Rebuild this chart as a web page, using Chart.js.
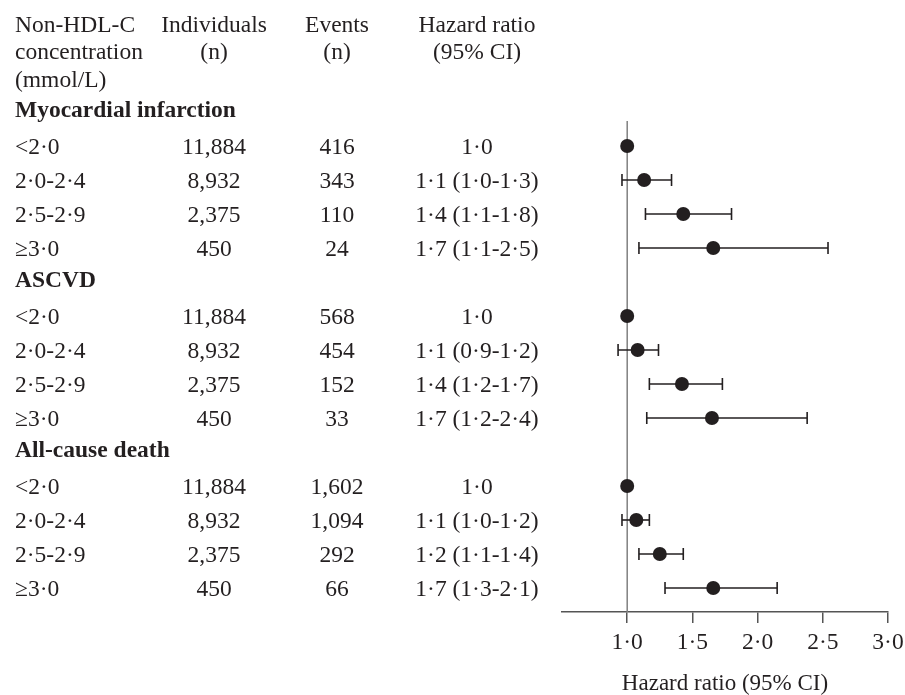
<!DOCTYPE html>
<html>
<head>
<meta charset="utf-8">
<script src="https://cdn.jsdelivr.net/npm/chart.js@4"></script>
<style>
  body { margin: 0; background: #fff; }
  #wrap { width: 905px; height: 695px; position: relative; }
</style>
</head>
<body>
<div id="wrap"><canvas id="forest"></canvas></div>
<script>
const groups = ["<2·0", "2·0-2·4", "2·5-2·9", "≥3·0"];
const outcomes = ["Myocardial infarction", "ASCVD", "All-cause death"];
const individuals = ["11,884", "8,932", "2,375", "450"];

const eventsMI = ["416", "343", "110", "24"];
const eventsASCVD = ["568", "454", "152", "33"];
const eventsDeath = ["1,602", "1,094", "292", "66"];

const hrTextMI = ["1·0", "1·1 (1·0-1·3)", "1·4 (1·1-1·8)", "1·7 (1·1-2·5)"];
const hrTextASCVD = ["1·0", "1·1 (0·9-1·2)", "1·4 (1·2-1·7)", "1·7 (1·2-2·4)"];
const hrTextDeath = ["1·0", "1·1 (1·0-1·2)", "1·2 (1·1-1·4)", "1·7 (1·3-2·1)"];

// plotted estimates
const hrMI = [1.0, 1.13, 1.43, 1.66];
const loMI = [null, 0.96, 1.14, 1.09];
const hiMI = [null, 1.34, 1.80, 2.54];
const hrASCVD = [1.0, 1.08, 1.42, 1.65];
const loASCVD = [null, 0.93, 1.17, 1.15];
const hiASCVD = [null, 1.24, 1.73, 2.38];
const hrDeath = [1.0, 1.07, 1.25, 1.66];
const loDeath = [null, 0.96, 1.09, 1.29];
const hiDeath = [null, 1.17, 1.43, 2.15];

const xTicks = [1.0, 1.5, 2.0, 2.5, 3.0];
const headerCols = [
  ["Non-HDL-C", "concentration", "(mmol/L)"],
  ["Individuals", "(n)"],
  ["Events", "(n)"],
  ["Hazard ratio", "(95% CI)"],
];

const sections = [
  { name: outcomes[0], events: eventsMI, text: hrTextMI, hr: hrMI, lo: loMI, hi: hiMI },
  { name: outcomes[1], events: eventsASCVD, text: hrTextASCVD, hr: hrASCVD, lo: loASCVD, hi: hiASCVD },
  { name: outcomes[2], events: eventsDeath, text: hrTextDeath, hr: hrDeath, lo: loDeath, hi: hiDeath },
];

const INK = "#231f20";
const SERIF = "'Liberation Serif', 'Times New Roman', serif";
const Y_MIN = 0.265;
const Y_MAX = 14.706;

function rowOf(s, g) {
  return s * 5 + 1 + g;
}

const points = [];
const ciSets = [];
sections.forEach((sec, s) => {
  sec.hr.forEach((v, g) => {
    points.push({ x: v, y: rowOf(s, g) });
    if (sec.lo[g] != null) {
      ciSets.push({
        type: "scatter",
        showLine: true,
        data: [
          { x: sec.lo[g], y: rowOf(s, g) },
          { x: sec.hi[g], y: rowOf(s, g) },
        ],
        borderColor: INK,
        borderWidth: 1.6,
        pointStyle: "line",
        rotation: 90,
        pointRadius: 6,
        pointBorderWidth: 1.6,
        pointBorderColor: INK,
        order: 1,
      });
    }
  });
});

const tablePlugin = {
  id: "table",
  afterDraw(chart) {
    const ctx = chart.ctx;
    const y = chart.scales.y;
    const colX = [15, 214, 337, 477];
    const top = y.getPixelForValue(0);
    ctx.save();
    ctx.fillStyle = INK;
    ctx.textBaseline = "alphabetic";
    ctx.font = "23.5px " + SERIF;

    headerCols.forEach((lines, c) => {
      ctx.textAlign = c === 0 ? "left" : "center";
      lines.forEach((line, i) => {
        ctx.fillText(line, colX[c], top - 80 + i * 27.5);
      });
    });

    sections.forEach((sec, s) => {
      ctx.font = "bold 23.5px " + SERIF;
      ctx.textAlign = "left";
      ctx.fillText(sec.name, colX[0], y.getPixelForValue(s * 5) + 5);
      ctx.font = "23.5px " + SERIF;
      groups.forEach((grp, g) => {
        const base = y.getPixelForValue(rowOf(s, g)) + 8;
        ctx.textAlign = "left";
        ctx.fillText(grp, colX[0], base);
        ctx.textAlign = "center";
        ctx.fillText(individuals[g], colX[1], base);
        ctx.fillText(sec.events[g], colX[2], base);
        ctx.fillText(sec.text[g], colX[3], base);
      });
    });
    ctx.restore();
  },
};

new Chart(document.getElementById("forest"), {
  type: "scatter",
  data: {
    datasets: [
      {
        data: points,
        backgroundColor: INK,
        borderWidth: 0,
        pointRadius: 7,
        order: 0,
      },
      ...ciSets,
      {
        type: "scatter",
        showLine: true,
        data: [
          { x: 1, y: Y_MIN },
          { x: 1, y: Y_MAX },
        ],
        borderColor: "#808080",
        borderWidth: 1.5,
        pointRadius: 0,
        order: 2,
      },
    ],
  },
  options: {
    responsive: true,
    maintainAspectRatio: false,
    animation: false,
    events: [],
    layout: { padding: { left: 562, right: 17, top: 121, bottom: 0 } },
    plugins: { legend: { display: false }, tooltip: { enabled: false } },
    scales: {
      x: {
        type: "linear",
        min: 0.5,
        max: 3.0,
        afterBuildTicks: (scale) => {
          scale.ticks = [0.5, ...xTicks].map((v) => ({ value: v }));
        },
        afterFit: (scale) => {
          scale.height = 83;
          scale.paddingLeft = 0;
          scale.paddingRight = 0;
        },
        border: { display: true, color: "#555", width: 1.5 },
        grid: {
          drawOnChartArea: false,
          drawTicks: true,
          tickLength: 11,
          color: "#555",
          lineWidth: 1.5,
        },
        ticks: {
          padding: 6,
          color: INK,
          font: { family: SERIF, size: 23.5 },
          callback: (v) => (v === 0.5 ? null : v.toFixed(1).replace(".", "·")),
        },
        title: {
          display: true,
          text: "Hazard ratio (95% CI)",
          color: INK,
          font: { family: SERIF, size: 23, lineHeight: 1 },
          padding: { top: 0, bottom: 0 },
        },
      },
      y: {
        type: "linear",
        display: false,
        reverse: true,
        min: Y_MIN,
        max: Y_MAX,
      },
    },
  },
  plugins: [tablePlugin],
});
</script>
</body>
</html>
